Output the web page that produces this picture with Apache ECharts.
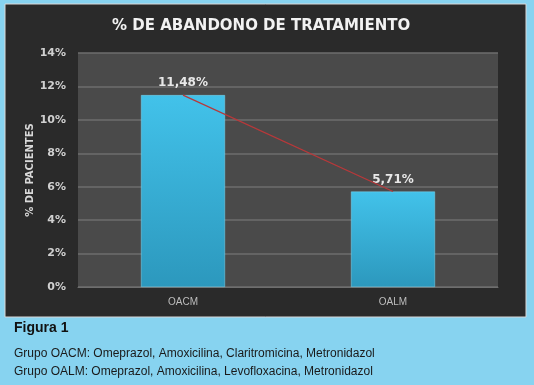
<!DOCTYPE html>
<html>
<head>
<meta charset="utf-8">
<script src="https://cdn.jsdelivr.net/npm/echarts@6/dist/echarts.min.js"></script>
<style>
  html, body { margin: 0; padding: 0; background: #87d3f0; }
  #chart { width: 534px; height: 385px; }
</style>
</head>
<body>
<div id="chart"></div>
<script>
// datos
var grupos = ['OACM', 'OALM'];
var abandono = [11.48, 5.71];
var etiquetas = ['11,48%', '5,71%'];
var yTicks = [0, 2, 4, 6, 8, 10, 12, 14];

var chart = echarts.init(document.getElementById('chart'));

var option = {
  backgroundColor: '#87d3f0',
  animation: false,
  title: {
    text: '% DE ABANDONO DE TRATAMIENTO',
    left: 107,
    top: 14,
    textStyle: { color: '#f2f2f2', fontSize: 15, fontWeight: 'bold', fontFamily: 'DejaVu Sans' }
  },
  graphic: [
    { type: 'rect', z: -10, shape: { x: 5, y: 4, width: 521, height: 313 },
      style: { fill: '#2a2a2a', stroke: '#d8d8d8', lineWidth: 1 } },
    { type: 'text', left: 14, top: 321,
      style: { text: 'Figura 1', fill: '#111', font: 'bold 14px "Liberation Sans"' } },
    { type: 'text', left: 14, top: 348,
      style: { text: 'Grupo OACM: Omeprazol, Amoxicilina, Claritromicina, Metronidazol', fill: '#1a1a1a', font: '12px "Liberation Sans"' } },
    { type: 'text', left: 14, top: 366,
      style: { text: 'Grupo OALM: Omeprazol, Amoxicilina, Levofloxacina, Metronidazol', fill: '#1a1a1a', font: '12px "Liberation Sans"' } }
  ],
  grid: {
    left: 78, right: 36, top: 53, bottom: 98,
    show: true, backgroundColor: '#4a4a4a', borderWidth: 0
  },
  xAxis: {
    type: 'category',
    data: grupos,
    axisLine: { lineStyle: { color: '#6e6e6e', width: 1 } },
    axisTick: { show: false },
    axisLabel: { color: '#bdbdbd', fontSize: 10, margin: 10, fontFamily: 'Liberation Sans' }
  },
  yAxis: {
    type: 'value',
    min: yTicks[0],
    max: yTicks[yTicks.length - 1],
    interval: 2,
    name: '% DE PACIENTES',
    nameLocation: 'middle',
    nameGap: 43,
    nameMoveOverlap: false,
    nameTextStyle: { color: '#d8d8d8', fontSize: 10, fontWeight: 'bold', fontFamily: 'DejaVu Sans' },
    axisLine: { show: false },
    axisTick: { show: false },
    axisLabel: {
      color: '#d0d0d0', fontSize: 11, fontWeight: 'bold', margin: 12, fontFamily: 'DejaVu Sans',
      formatter: function(v) { return v + '%'; }
    },
    splitLine: { lineStyle: { color: '#6e6e6e', width: 1.5 } }
  },
  series: [
    {
      type: 'bar',
      data: abandono,
      barWidth: '40%',
      itemStyle: {
        color: new echarts.graphic.LinearGradient(0, 0, 0, 1, [
          { offset: 0, color: '#42c2ea' },
          { offset: 1, color: '#2c98bd' }
        ]),
        borderColor: '#7fd6f0',
        borderWidth: 0.5
      },
      label: {
        show: true,
        position: 'top',
        distance: 6,
        color: '#e8e8e8',
        fontSize: 12,
        fontWeight: 'bold',
        fontFamily: 'DejaVu Sans',
        formatter: function(p) { return etiquetas[p.dataIndex]; }
      }
    },
    {
      type: 'line',
      data: abandono,
      symbol: 'none',
      lineStyle: { color: '#b8383a', width: 1.2 },
      z: 5
    }
  ]
};

chart.setOption(option);
</script>
</body>
</html>
